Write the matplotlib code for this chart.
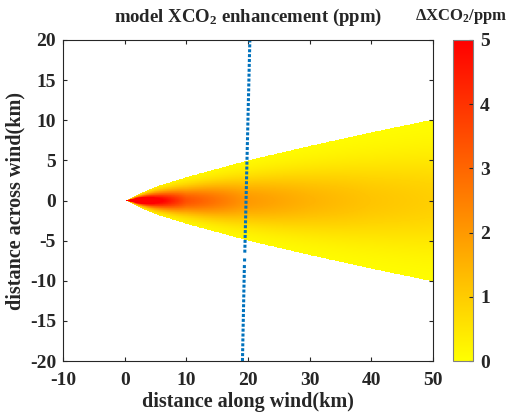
import numpy as np
import matplotlib
matplotlib.use("Agg")
import matplotlib.pyplot as plt
from matplotlib.colors import LinearSegmentedColormap

plt.rcParams['font.family'] = ['Liberation Serif', 'DejaVu Serif']
plt.rcParams['font.weight'] = 'bold'
plt.rcParams['axes.unicode_minus'] = False
plt.rcParams['mathtext.fontset'] = 'custom'
plt.rcParams['mathtext.rm'] = 'Liberation Serif:bold'
plt.rcParams['mathtext.it'] = 'Liberation Serif:bold'
plt.rcParams['mathtext.bf'] = 'Liberation Serif:bold'

# plume: stations along wind, centreline enhancement, edge half-width
along_km = [0.3, 2, 5, 10, 20, 30, 40, 50]
centre_ppm = [8.0, 8.0, 5.5, 3.4, 2.0, 1.5, 1.15, 0.95]
half_width_km = [0.0, 0.7, 1.7, 2.9, 5.0, 6.8, 8.5, 10.1]

# observation track (blue dots), split where points are missing
track_x = [[19.1, 19.42], [19.44, 19.46], [19.48, 20.3]]
track_y = [[-20, -7.9], [-7.6, -7.0], [-6.5, 20]]

xticks = [-10, 0, 10, 20, 30, 40, 50]
yticks = [-20, -15, -10, -5, 0, 5, 10, 15, 20]
cticks = [0, 1, 2, 3, 4, 5]

# field on a fine grid: Gaussian across-wind profile, cut at the edge
gx = np.linspace(-10, 50, 1201)
gy = np.linspace(-20, 20, 801)
X, Y = np.meshgrid(gx, gy)
c0 = np.interp(X, along_km, centre_ppm, left=np.nan, right=np.nan)
hw = np.interp(X, along_km, half_width_km, left=np.nan, right=np.nan)
sig = np.maximum(hw / 2.4, 1e-6)
field = c0 * np.exp(-0.5 * (Y / sig) ** 2)
field = np.ma.masked_where(~(np.abs(Y) <= hw) | np.isnan(field), field)

cmap = LinearSegmentedColormap.from_list('yr', [(1, 1, 0), (1, 0, 0)])
cmap.set_bad((1, 1, 1, 0))

W, H = 509, 412
fig = plt.figure(figsize=(W / 100, H / 100), dpi=100)
ax = fig.add_axes([63 / W, 1 - 361 / H, 370 / W, 321 / H])
im = ax.imshow(field, origin='lower', extent=[gx[0], gx[-1], gy[0], gy[-1]],
               cmap=cmap, vmin=0, vmax=5, aspect='auto', interpolation='nearest')

for tx, ty in zip(track_x, track_y):
    ax.plot(tx, ty, color='#0072BD', linestyle=(0, (1, 0.6)), linewidth=2.2)

dark = '#262626'
ax.set_xlim(-10, 50)
ax.set_ylim(-20, 20)
ax.set_xticks(xticks)
ax.set_yticks(yticks)
ax.tick_params(direction='in', top=True, right=True, length=3, colors=dark,
               labelsize=14)
ax.tick_params(axis='x', pad=8)
ax.tick_params(axis='y', pad=5)
for s in ax.spines.values():
    s.set_color(dark)
    s.set_linewidth(0.8)
ax.set_xlabel('distance along wind(km)', fontsize=14.5, fontweight='bold', color=dark, labelpad=2)
ax.set_ylabel('distance across wind(km)', fontsize=14.5, fontweight='bold', color=dark, labelpad=3)
ax.set_title('model XCO$_2$ enhancement (ppm)', fontsize=13.5, fontweight='bold', color=dark, pad=13)

cax = fig.add_axes([453 / W, 1 - 361 / H, 20 / W, 321 / H])
cb = fig.colorbar(im, cax=cax, ticks=cticks)
cb.outline.set_edgecolor('#808080')
cb.outline.set_linewidth(0.8)
cax.tick_params(direction='in', length=3, colors=dark, labelsize=14, pad=5)
fig.text(461 / W, 1 - 20 / H, r'$\Delta$XCO$_2$/ppm', ha='center', va='baseline',
         fontsize=12, fontweight='bold', color=dark)

fig.savefig('out.png', dpi=100)
